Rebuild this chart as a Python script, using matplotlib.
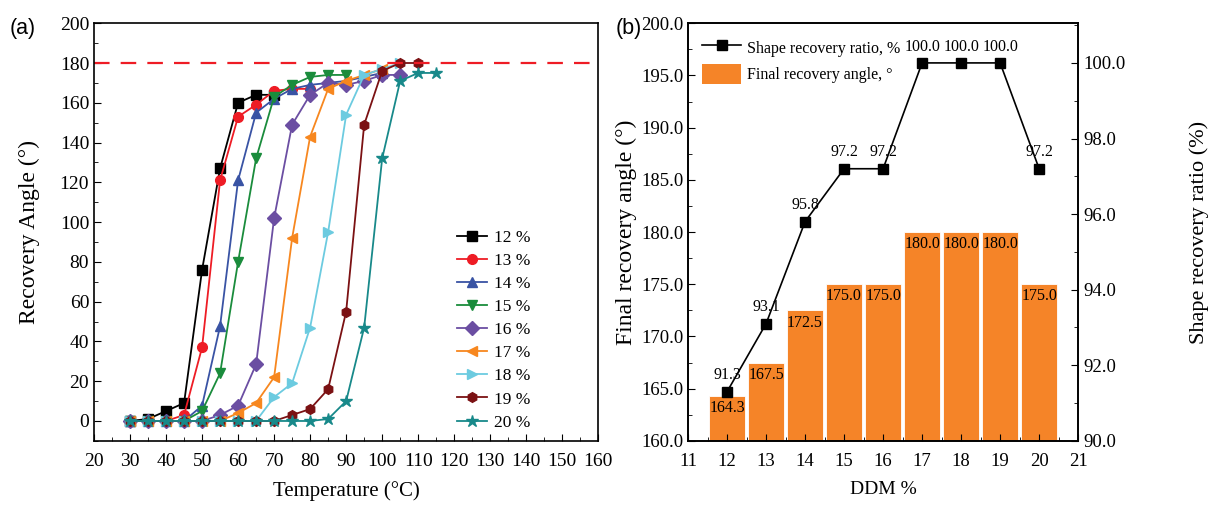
import matplotlib.pyplot as plt
from matplotlib.ticker import MultipleLocator, FormatStrFormatter
from matplotlib.patches import Patch
from matplotlib.lines import Line2D

plt.rcParams['font.family'] = ['Liberation Serif', 'DejaVu Sans']
plt.rcParams['font.size'] = 14

# (a) recovery angle vs temperature
temps = [30, 35, 40, 45, 50, 55, 60, 65, 70, 75, 80, 85, 90, 95, 100, 105, 110, 115]
labels_a = ['12 %', '13 %', '14 %', '15 %', '16 %', '17 %', '18 %', '19 %', '20 %']
ang12 = [0, 1, 5, 9, 76, 127, 160, 164, 164]
ang13 = [0, 0, 0, 3, 37, 121, 153, 159, 166, 167, 167]
ang14 = [0, 0, 0, 0, 7.7, 47.7, 121, 155, 162, 167, 169, 170, 171, 173, 175]
ang15 = [0, 0, 0, 0, 5, 24, 80, 132, 163, 169, 173, 174, 174]
ang16 = [0, 0, 0, 0, 0, 3, 7.7, 28.5, 102, 149, 164, 170, 169, 171, 174, 174]
ang17 = [0, 0, 0, 0, 0, 0, 4, 9, 22, 92, 143, 167, 171, 174, 177]
ang18 = [0, 0, 0, 0, 0, 0, 0, 0, 12, 19, 47, 95, 154, 174, 177, 180]
ang19 = [0, 0, 0, 0, 0, 0, 0, 0, 0, 3, 6, 16, 55, 149, 176, 180, 180]
ang20 = [0, 0, 0, 0, 0, 0, 0, 0, 0, 0, 0, 1, 10, 47, 132, 171, 175, 175]
series_a = [ang12, ang13, ang14, ang15, ang16, ang17, ang18, ang19, ang20]
colors_a = ['#000000', '#ee1c25', '#3953a4', '#1a8c3c', '#6b4ea2',
            '#f7871f', '#6ccbe0', '#7b1113', '#18898a']
markers_a = ['s', 'o', '^', 'v', 'D', '<', '>', 'h', '*']
target_angle = 180

# (b) DDM content
ddm = [12, 13, 14, 15, 16, 17, 18, 19, 20]
final_angle = [164.3, 167.5, 172.5, 175.0, 175.0, 180.0, 180.0, 180.0, 175.0]
recovery_ratio = [91.3, 93.1, 95.8, 97.2, 97.2, 100.0, 100.0, 100.0, 97.2]

fig = plt.figure(figsize=(12.21, 5.05), dpi=100)

ax1 = fig.add_axes([0.077, 0.127, 0.413, 0.827])
for y, c, m, lab in zip(series_a, colors_a, markers_a, labels_a):
    ms = 9 if m == '*' else 7
    ax1.plot(temps[:len(y)], y, color=c, marker=m, ms=ms, lw=1.3, label=lab)
ax1.axhline(target_angle, color='#ee1c25', ls=(0, (7, 5)), lw=1.6)
ax1.set_xlim(20, 160)
ax1.set_ylim(-10, 200)
ax1.xaxis.set_major_locator(MultipleLocator(10))
ax1.xaxis.set_minor_locator(MultipleLocator(5))
ax1.yaxis.set_major_locator(MultipleLocator(20))
ax1.yaxis.set_minor_locator(MultipleLocator(10))
ax1.tick_params(which='both', direction='in', top=False, right=False)
ax1.tick_params(which='major', length=5)
ax1.tick_params(which='minor', length=3)
ax1.tick_params(axis='x', pad=9)
ax1.set_xlabel('Temperature (°C)', fontsize=15, labelpad=8)
ax1.set_ylabel('Recovery Angle (°)', fontsize=17, labelpad=14)
ax1.legend(loc='lower right', frameon=False, fontsize=12.5, handlelength=1.75,
           handletextpad=0.4, labelspacing=0.4, bbox_to_anchor=(0.897, -0.013))
for s in ax1.spines.values():
    s.set_linewidth(1.2)

ax2 = fig.add_axes([0.5635, 0.127, 0.3195, 0.827])
bars = ax2.bar(ddm, final_angle, width=0.92, color='#f58428', edgecolor='white',
               lw=0.6)
for x, v in zip(ddm, final_angle):
    ax2.text(x, v - 0.4, f'{v:.1f}', ha='center', va='top', fontsize=11.5)
ax2.set_xlim(11, 21)
ax2.set_ylim(160, 200)
ax2.xaxis.set_major_locator(MultipleLocator(1))
ax2.xaxis.set_minor_locator(MultipleLocator(0.5))
ax2.yaxis.set_major_locator(MultipleLocator(5))
ax2.yaxis.set_minor_locator(MultipleLocator(2.5))
ax2.yaxis.set_major_formatter(FormatStrFormatter('%.1f'))
ax2.tick_params(which='both', direction='in', top=False, labelsize=13.5)
ax2.tick_params(which='major', length=5)
ax2.tick_params(which='minor', length=3)
ax2.tick_params(axis='x', pad=9)
ax2.set_xlabel('DDM %', fontsize=14, labelpad=8)
ax2.set_ylabel('Final recovery angle (°)', fontsize=17, labelpad=3)

ax3 = ax2.twinx()
ax3.plot(ddm, recovery_ratio, color='black', marker='s', ms=7.5, lw=1.2)
for x, v in zip(ddm, recovery_ratio):
    ax3.annotate(f'{v:.1f}', (x, v), xytext=(0, 6), textcoords='offset points',
                 ha='center', va='bottom', fontsize=11.5)
ax3.set_ylim(90, 101.05)
ax3.yaxis.set_major_locator(MultipleLocator(2))
ax3.yaxis.set_minor_locator(MultipleLocator(1))
ax3.yaxis.set_major_formatter(FormatStrFormatter('%.1f'))
ax3.tick_params(which='both', direction='in', labelsize=13.5)
ax3.tick_params(which='major', length=5)
ax3.tick_params(which='minor', length=3)
ax3.set_ylabel('Shape recovery ratio (%)', fontsize=16, labelpad=46)
for a in (ax2, ax3):
    for s in a.spines.values():
        s.set_linewidth(1.2)

handles = [Line2D([], [], color='black', marker='s', ms=7.5, lw=1.2),
           Patch(facecolor='#f58428')]
ax3.legend(handles, ['Shape recovery ratio, %', 'Final recovery angle, °'],
           loc='upper left', frameon=False, fontsize=11.5, handlelength=2.4,
           handleheight=1.5, handletextpad=0.4, labelspacing=0.45,
           bbox_to_anchor=(0.0, 1.0))

fig.text(0.008, 0.932, '(a)', fontsize=15.5, family='Liberation Sans')
fig.text(0.504, 0.932, '(b)', fontsize=15.5, family='Liberation Sans')

fig.savefig('out.png', dpi=100)
